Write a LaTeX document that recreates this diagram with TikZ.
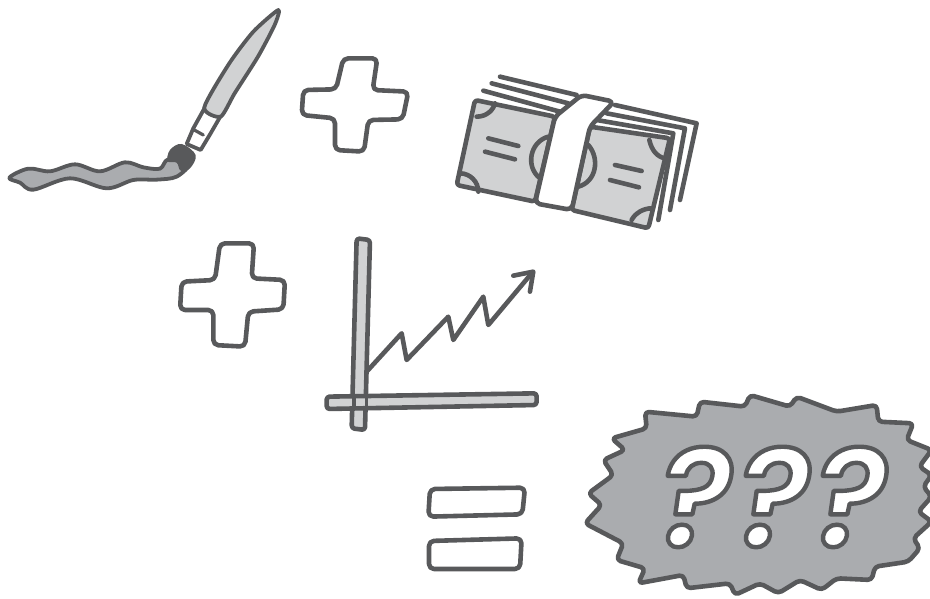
\documentclass[tikz,border=0pt]{standalone}
\usepackage{fontspec}
\usetikzlibrary{calc}
\newfontfamily\askfont[FakeSlant=0.17]{Poppins SemiBold}
\definecolor{inkgrey}{RGB}{88,89,91}
\definecolor{palegrey}{RGB}{209,210,211}
\definecolor{midgrey}{RGB}{170,172,175}
\begin{document}
\begin{tikzpicture}[x=1pt,y=-1pt,line join=round,line cap=round,
    ink/.style={draw=inkgrey,line width=4.6pt},
    outline/.style={ink,rounded corners=5pt},
    pale/.style={ink,fill=palegrey,rounded corners=3pt},
    zoomed/.style={shift={#1},x=.3333pt,y=-.3333pt}]
  \useasboundingbox (0,0) rectangle (930,598);
  % brush
  \begin{scope}[zoomed={(0,0)}]
    \draw[ink,fill=white,line width=3.8pt] (615,322) -- (580,385) -- (560,432) -- (602,450) -- (632,400) -- (662,348);
    \draw[ink,fill=palegrey,line width=3.8pt] plot[smooth cycle,tension=.4] coordinates {(835,30) (760,95) (688,190) (613,322) (662,350) (704,280) (774,170) (824,75)};
    \draw[ink,line width=3.2pt] (583,390) -- (610,405);
    \draw[ink,fill=midgrey,line width=3.8pt] plot[smooth cycle,tension=.55] coordinates {(505,478) (480,506) (430,502) (375,487) (300,514) (225,493) (150,514) (85,506) (28,533) (60,548) (100,569) (210,535) (320,565) (400,540) (470,539) (530,530) (568,490)};
    \fill[inkgrey] plot[smooth cycle,tension=.6] coordinates {(545,432) (587,465) (570,505) (542,512) (530,488) (503,484) (510,450)};
  \end{scope}
  % plus signs
  \begin{scope}[zoomed={(290,40)}]
    \draw[outline] (160,55) -- (262,55) -- (248,150) -- (355,155) -- (338,238) -- (235,240) -- (222,335) -- (135,330) -- (135,235) -- (35,225) -- (40,150) -- (138,148) -- cycle;
  \end{scope}
  \begin{scope}[zoomed={(170,230)}]
    \draw[outline] (150,40) -- (252,40) -- (245,145) -- (345,150) -- (340,238) -- (235,245) -- (225,350) -- (130,345) -- (130,240) -- (30,240) -- (35,155) -- (135,150) -- cycle;
    % axes and trend
    \draw[pale] (560,25) -- (600,30) -- (585,600) -- (545,595) -- cycle;
    \draw[pale] (470,500) -- (1100,490) -- (1100,525) -- (470,537) -- cycle;
    \draw[ink,line width=3.4pt] (552,498) -- (552,535) (590,495) -- (590,532);
    \draw[ink] (590,425) -- (695,310) -- (710,390) -- (835,260) -- (850,330) -- (940,200) -- (955,285) -- (1085,130);
    \draw[ink] (1030,137) -- (1090,125) -- (1080,185);
  \end{scope}
  % banknotes
  \begin{scope}[zoomed={(440,70)}]
    \draw[ink] (130,62) -- (360,125) (155,40) -- (385,100) (180,20) -- (410,75);
    \draw[ink] (470,150) -- (700,190) -- (655,450) (500,130) -- (735,175) -- (690,420) (525,105) -- (770,160) -- (720,390);
    \draw[pale] (105,90) -- (345,140) -- (285,395) -- (50,345) -- cycle;
    \draw[pale] (450,170) -- (690,205) -- (625,475) -- (395,420) -- cycle;
    \draw[ink,fill=white,rounded corners=5pt] (425,75) -- (522,95) -- (450,170) -- (395,420) -- (285,400) -- (345,140) -- cycle;
    \draw[ink] (110,140) .. controls (140,140) and (160,120) .. (165,100);
    \draw[ink] (60,310) .. controls (90,310) and (115,335) .. (115,365);
    \draw[ink] (325,200) .. controls (270,215) and (255,290) .. (300,325);
    \draw[ink] (445,225) .. controls (480,265) and (470,335) .. (415,350);
    \draw[ink] (628,210) .. controls (635,240) and (650,260) .. (675,265);
    \draw[ink] (575,450) .. controls (585,430) and (610,415) .. (635,415);
    \draw[ink] (145,205) -- (235,228) (135,245) -- (225,268) (525,285) -- (605,303) (510,330) -- (597,352);
  \end{scope}
  % equals
  \begin{scope}[zoomed={(415,475)}]
    \draw[outline] (45,42) -- (330,38) -- (322,118) -- (40,125) -- cycle;
    \draw[outline] (42,198) -- (320,190) -- (315,282) -- (42,282) -- cycle;
  \end{scope}
  % burst
  \begin{scope}[zoomed={(570,380)}]
    \draw[ink,fill=midgrey,rounded corners=4pt] (225,95) -- (380,110) -- (390,65) -- (525,80) -- (540,45) -- (660,80) -- (680,50) -- (800,95) -- (920,75) -- (925,125) -- (1030,130) -- (1010,180) -- (1085,210) -- (1048,260) -- (1085,285) -- (1060,320) -- (1085,350) -- (1045,395) -- (1085,425) -- (1030,475) -- (1050,505) -- (1015,545) -- (915,560) -- (905,600) -- (800,595) -- (755,630) -- (690,600) -- (625,640) -- (570,610) -- (495,645) -- (480,610) -- (350,625) -- (340,585) -- (205,610) -- (225,565) -- (140,540) -- (160,490) -- (45,430) -- (95,375) -- (55,340) -- (130,285) -- (100,240) -- (165,210) -- (125,175) -- (230,145) -- cycle;
  \end{scope}
  \foreach \askname/\askx in {askone/688,asktwo/766,askthree/843}
    \node[text=white,inner sep=0pt,font=\askfont\fontsize{138}{138}\selectfont] (\askname) at (\askx,497) {\special{pdf:code 2 Tr 4.4 w 0.345 0.349 0.357 RG}?\special{pdf:code 0 Tr}};
\end{tikzpicture}
\end{document}
